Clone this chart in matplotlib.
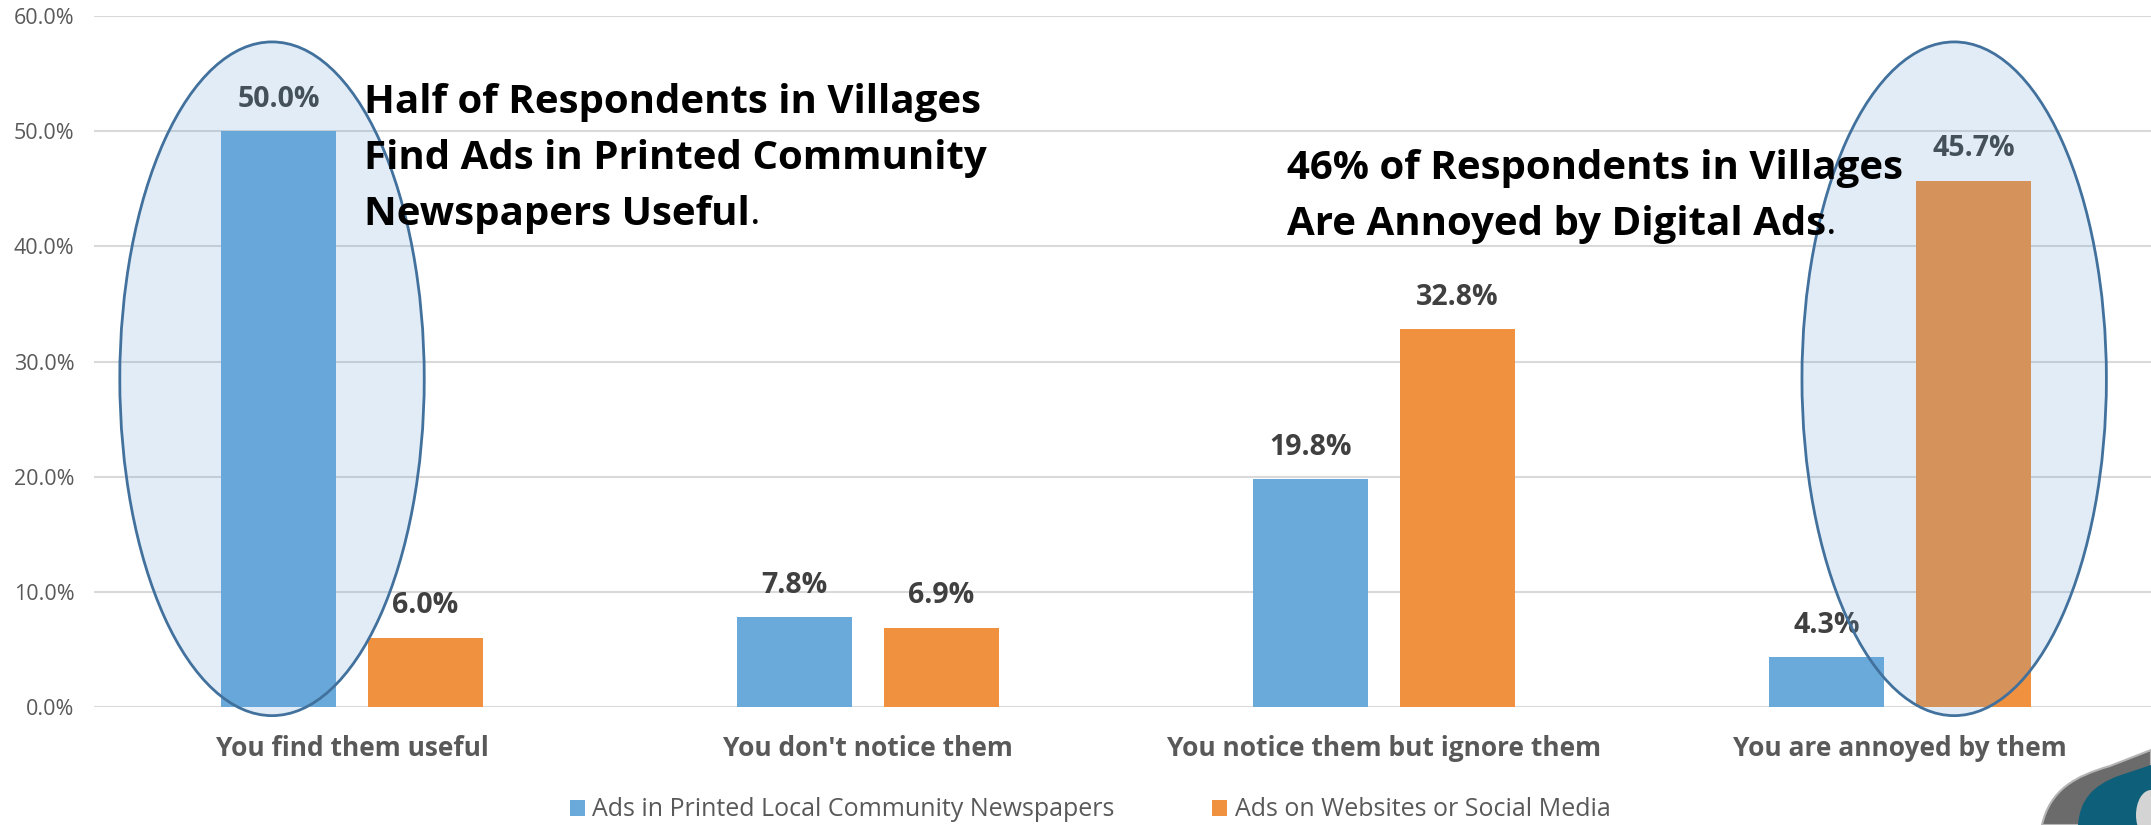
import matplotlib.pyplot as plt
import numpy as np
from matplotlib.patches import Ellipse, PathPatch
from matplotlib.path import Path

# survey answers and shares per ad channel
categories = ["You find them useful", "You don't notice them",
              "You notice them but ignore them", "You are annoyed by them"]
printed = [0.500, 0.078, 0.198, 0.043]
digital = [0.060, 0.069, 0.328, 0.457]
series_names = ["Ads in Printed Local Community Newspapers",
                "Ads on Websites or Social Media"]
yticks = [0.0, 0.1, 0.2, 0.3, 0.4, 0.5, 0.6]
note_left = ["Half of Respondents in Villages", "Find Ads in Printed Community",
             "Newspapers Useful"]
note_right = ["46% of Respondents in Villages", "Are Annoyed by Digital Ads"]

BLUE = "#6AAADB"
ORANGE = "#F0913F"
GREY = "#595959"
LABEL = "#404040"
W, H = 2151, 825

plt.rcParams['font.family'] = ['Open Sans', 'DejaVu Sans']

fig = plt.figure(figsize=(W / 100, H / 100), dpi=100)
ax = fig.add_axes([94 / W, 118 / H, 2064 / W, 691 / H])

x = np.arange(len(categories))
w = 0.223
off = 0.1425
b1 = ax.bar(x - off, printed, w, color=BLUE, zorder=2, label=series_names[0])
b2 = ax.bar(x + off, digital, w, color=ORANGE, zorder=2, label=series_names[1])

# value labels above every bar
for bars, vals in ((b1, printed), (b2, digital)):
    for r, v in zip(bars, vals):
        ax.annotate("{:.1f}%".format(v * 100), (r.get_x() + r.get_width() / 2, v),
                    xytext=(0, 23), textcoords="offset points",
                    ha="center", va="center", fontsize=20.5, fontweight="bold",
                    color=LABEL, zorder=3)

ax.set_xlim(-0.5, 3.5)
ax.set_ylim(0, 0.6)
ax.set_yticks(yticks)
ax.set_yticklabels(["{:.1f}%".format(t * 100) for t in yticks])
ax.set_xticks(x)
ax.set_xticklabels(categories)
ax.tick_params(axis="y", length=0, pad=14, labelsize=15.5, labelcolor=GREY)
ax.tick_params(axis="x", length=0, pad=20, labelsize=19, labelcolor=GREY)
for lab in ax.get_xticklabels():
    lab.set_fontweight("bold")
ax.grid(axis="y", color="#D9D9D9", linewidth=1.5, zorder=0)
ax.set_axisbelow(True)
for s in ax.spines.values():
    s.set_visible(False)

# highlight ellipses around the two key bars
for cx in (-0.155, 3.105):
    ax.add_patch(Ellipse((cx, 0.285), 0.59, 0.585, facecolor="#5B9BD5", alpha=0.18,
                         edgecolor="none", zorder=4, clip_on=False))
    ax.add_patch(Ellipse((cx, 0.285), 0.59, 0.585, facecolor="none",
                         edgecolor="#41719C", linewidth=2, zorder=4, clip_on=False))


# callouts: bold lines, the closing full stop in regular weight
def callout(lines, left, tops):
    t = None
    for line, yy in zip(lines, tops):
        t = ax.text(left / W, 1 - yy / H, line, transform=fig.transFigure, fontsize=29,
                    fontweight="bold", color="black", va="center", ha="left", zorder=5)
    ax.annotate(".", xy=(1, 0), xycoords=t, fontsize=29, color="black",
                va="bottom", ha="left", zorder=5)


callout(note_left, 364, [103, 159, 215])
callout(note_right, 1287, [169, 224])

leg = fig.legend(handles=[b1, b2], loc="center", bbox_to_anchor=(1090 / W, 15 / H),
                 ncol=2, frameon=False, fontsize=18, handlelength=0.6, handleheight=0.6,
                 handletextpad=0.3, columnspacing=3.9)
for t in leg.get_texts():
    t.set_color(GREY)


# slide ornament in the lower right corner (pixel coordinates)
def px_path(pts, codes):
    return Path([(px / W, 1 - py / H) for px, py in pts], codes)


C4, L, M, CL = Path.CURVE4, Path.LINETO, Path.MOVETO, Path.CLOSEPOLY
band = px_path([(2042, 825), (2050, 790), (2075, 776), (2110, 766), (2151, 750),
                (2151, 825), (2042, 825)], [M, C4, C4, C4, L, L, CL])
fig.patches.append(PathPatch(band, transform=fig.transFigure, facecolor="#6B6B6B",
                             edgecolor="#B5B5B5", linewidth=1.5))
teal = px_path([(2078, 825), (2080, 800), (2092, 786), (2118, 776), (2151, 765),
                (2151, 825), (2078, 825)], [M, C4, C4, C4, L, L, CL])
fig.patches.append(PathPatch(teal, transform=fig.transFigure, facecolor="#0E5F7A",
                             edgecolor="none"))
fig.patches.append(Ellipse((1.0, 1 - 815 / H), 30 / W, 50 / H, transform=fig.transFigure,
                           facecolor="#D4D4D4", edgecolor="none"))

fig.savefig("out.png", dpi=100)
